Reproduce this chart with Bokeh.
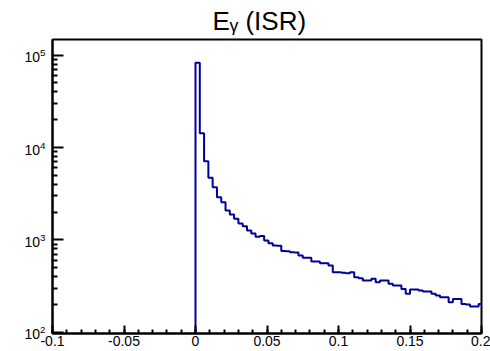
import numpy as np
from bokeh.plotting import figure
from bokeh.models import Range1d, FixedTicker, SingleIntervalTicker, CustomJSTickFormatter, Title
from bokeh.embed import file_html
from bokeh.resources import INLINE

# histogram definition (E_gamma from ISR)
bin_width = 0.003
first_edge = 0.0
counts = [83000, 14300, 7100, 4700, 3720, 2900, 2550, 2075, 1880, 1690,
          1500, 1400, 1262, 1170, 1080, 1100, 985, 920, 870, 860,
          755, 750, 735, 730, 676, 638, 638, 582, 582, 559,
          559, 528, 446, 446, 440, 435, 446, 394, 384, 362,
          362, 378, 348, 362, 362, 334, 320, 320, 294, 260,
          290, 290, 283, 276, 276, 260, 249, 239, 239, 211,
          229, 229, 202, 199, 189, 189, 202]

x_major_ticks = [-0.1, -0.05, 0.0, 0.05, 0.1, 0.15, 0.2]
y_decades = [2, 3, 4, 5]
title_text = "E\u1d67 (ISR)"

edges = first_edge + bin_width * np.arange(len(counts) + 1)
floor = 1.0
xs = np.repeat(edges, 2)
ys = np.concatenate([[floor], np.repeat(np.array(counts, float), 2), [floor]])

p = figure(width=490, height=351, y_axis_type="log",
           x_range=Range1d(-0.1, 0.2), y_range=Range1d(96.6, 1.48e5),
           output_backend="svg", toolbar_location=None,
           min_border_left=52, min_border_right=9, min_border_top=39, min_border_bottom=18)
p.title.visible = False
t = Title(text=title_text, align="left", offset=160, text_font="Liberation Sans",
          text_font_size="26px", text_font_style="normal", standoff=7, text_color="black")
p.add_layout(t, "above")

p.line(xs, ys, line_color="#000099", line_width=2)

p.xgrid.visible = False
p.ygrid.visible = False
p.outline_line_color = "black"
p.outline_line_width = 2
p.outline_line_alpha = 1

p.xaxis.ticker = SingleIntervalTicker(interval=0.05, num_minor_ticks=5)
p.xaxis.formatter = CustomJSTickFormatter(code="return String(Number(tick.toFixed(3)));")
majors = [10.0 ** d for d in y_decades]
minors = [m * 10.0 ** d for d in y_decades for m in range(2, 10)]
p.yaxis.ticker = FixedTicker(ticks=majors, minor_ticks=minors)

for ax in (p.xaxis[0], p.yaxis[0]):
    ax.axis_line_width = 2
    ax.major_tick_out = 0
    ax.minor_tick_out = 0
    ax.major_tick_line_width = 2
    ax.minor_tick_line_width = 2
    ax.major_label_text_font = "Liberation Sans"
    ax.major_label_text_font_size = "14px"
    ax.major_label_text_color = "black"
p.xaxis.major_tick_in = 8
p.xaxis.minor_tick_in = 4
p.xaxis.major_label_standoff = 2
p.yaxis.major_tick_in = 11
p.yaxis.minor_tick_in = 5
p.yaxis.major_label_standoff = 7

open("out.html", "w").write(file_html(p, INLINE))
